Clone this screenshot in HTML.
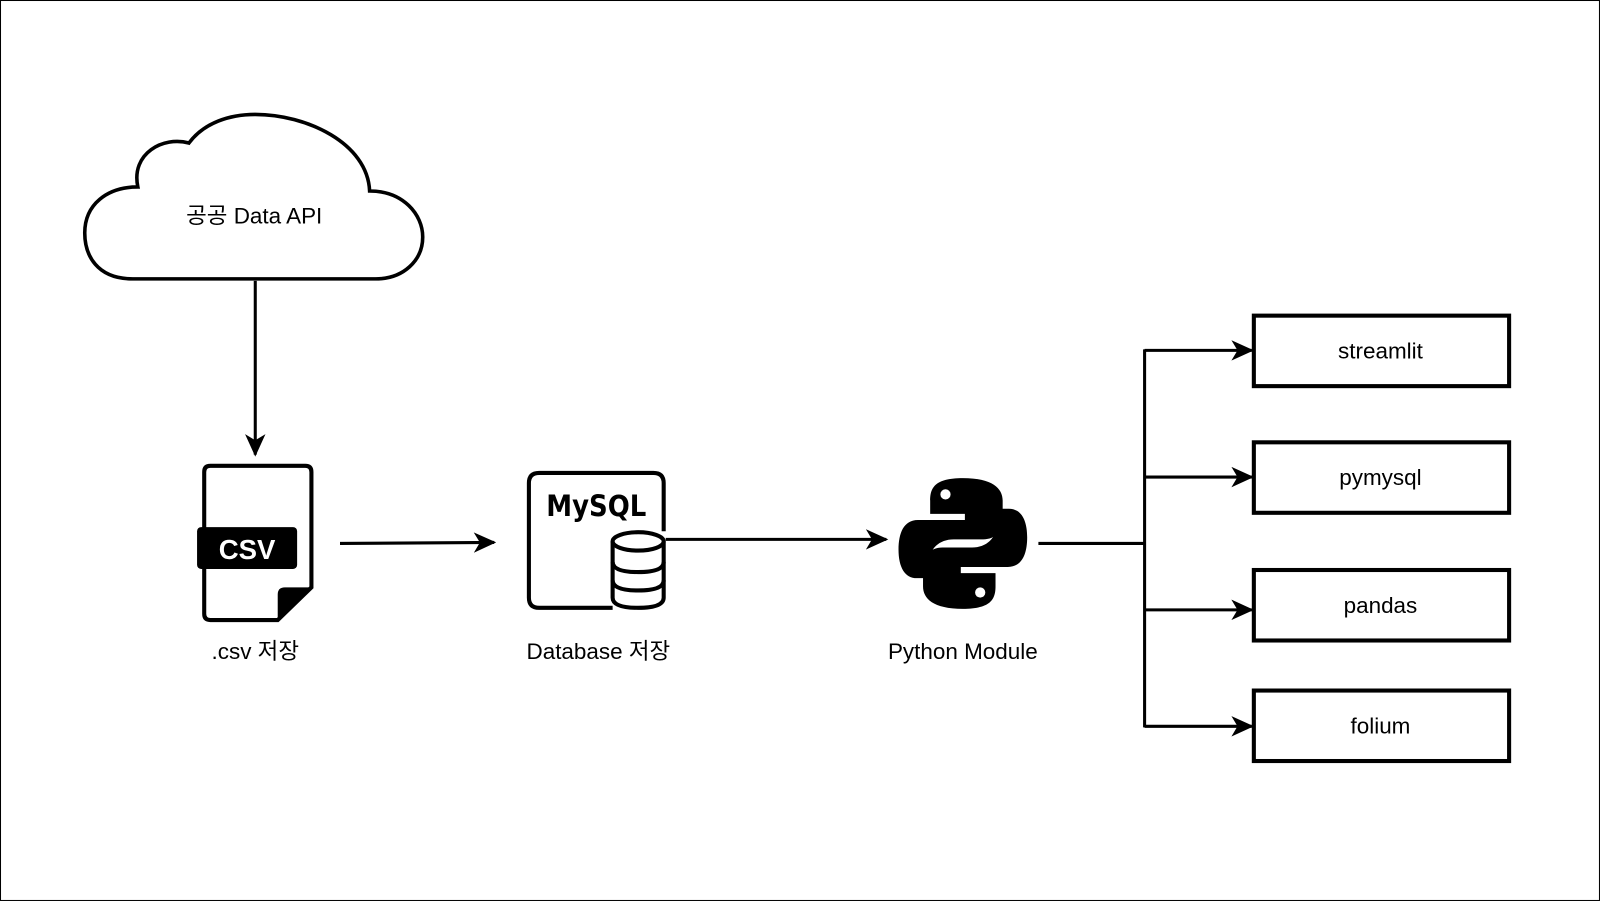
<!DOCTYPE html>
<html><head><meta charset="utf-8"><style>
html,body{margin:0;padding:0;background:#fff}
svg{display:block}
text{font-family:"Liberation Sans","Noto Sans CJK KR",sans-serif;fill:#000}
</style></head><body>
<svg width="1601" height="902" viewBox="0 0 1568 883" preserveAspectRatio="none" xmlns="http://www.w3.org/2000/svg">
<defs>
<marker id="b" markerWidth="22" markerHeight="20" refX="20" refY="10" orient="auto" markerUnits="userSpaceOnUse"><path d="M0,0 L22,10 L0,20 L6,10 z" fill="#000"/></marker></defs>
<rect x="0.5" y="0.5" width="1566" height="881" fill="#fff" stroke="#000" stroke-width="1"/>
<!-- cloud -->
<path d="M130,273 C95,273 83,250 83,228 C83,200 105,183 135,183 C128,150 160,133 185,140 C200,120 225,112 250,112 C300,112 360,140 362,187 C395,187 414,210 414,232 C414,255 395,273 368,273 Z" fill="#fff" stroke="#000" stroke-width="3.5"/>
<text x="249" y="219" font-size="22" text-anchor="middle">공공 Data API</text>
<line x1="250" y1="275" x2="250" y2="445" stroke="#000" stroke-width="3" marker-end="url(#b)"/>
<!-- csv -->
<path d="M206,456 H299 Q305,456 305,462 V575 L272,607 H206 Q200,607 200,601 V462 Q200,456 206,456 Z" fill="#fff" stroke="#000" stroke-width="4"/>
<path d="M305,575 L272,607 V582 Q272,575 279,575 Z" fill="#000"/>
<rect x="193" y="516" width="98" height="41" rx="4" fill="#000"/>
<text x="242" y="547" font-size="27" font-weight="bold" text-anchor="middle" style="fill:#fff">CSV</text>
<text x="250" y="645" font-size="22" text-anchor="middle">.csv 저장</text>
<line x1="333" y1="532" x2="484" y2="531" stroke="#000" stroke-width="3" marker-end="url(#b)"/>
<!-- mysql -->
<path d="M600,595 H528 Q518,595 518,585 V473 Q518,463 528,463 H640 Q650,463 650,473 V520" fill="none" stroke="#000" stroke-width="4"/>
<text x="535" y="505" font-size="29" font-weight="bold" textLength="98" lengthAdjust="spacingAndGlyphs" style="font-family:'DejaVu Sans',sans-serif">MySQL</text>
<g fill="#fff" stroke="#000" stroke-width="4">
<path d="M600,530 V585 Q600,595 625,595 Q650,595 650,585 V530"/>
<ellipse cx="625" cy="530" rx="25" ry="9"/>
<path d="M600,550 Q600,560 625,560 Q650,560 650,550" fill="none"/>
<path d="M600,568 Q600,578 625,578 Q650,578 650,568" fill="none"/>
</g>
<text x="586" y="645" font-size="22" text-anchor="middle">Database 저장</text>
<line x1="652" y1="528" x2="868" y2="528" stroke="#000" stroke-width="3" marker-end="url(#b)"/>
<!-- python -->
<g id="py">
<path d="M943,468 C915,468 911,478 911,490 V503 H945 V509 H899 C885,509 880,522 880,538 C880,555 886,566 898,566 H910 V551 C910,537 920,528 934,528 H963 C975,528 982,520 982,508 V490 C982,478 972,468 943,468 Z" fill="#000"/>
<circle cx="926" cy="484" r="5" fill="#fff"/>
</g>
<use href="#py" transform="rotate(180 943 532)"/>
<text x="943" y="645" font-size="22" text-anchor="middle">Python Module</text>
<!-- branches -->
<g stroke="#000" stroke-width="3" fill="none">
<line x1="1017" y1="532" x2="1121" y2="532"/>
<line x1="1121" y1="342" x2="1121" y2="712"/>
<line x1="1121" y1="343" x2="1226" y2="343" marker-end="url(#b)"/>
<line x1="1121" y1="467" x2="1226" y2="467" marker-end="url(#b)"/>
<line x1="1121" y1="597" x2="1226" y2="597" marker-end="url(#b)"/>
<line x1="1121" y1="711" x2="1226" y2="711" marker-end="url(#b)"/>
</g>
<g fill="#fff" stroke="#000" stroke-width="4">
<rect x="1228" y="309" width="250" height="69"/>
<rect x="1228" y="433" width="250" height="69"/>
<rect x="1228" y="558" width="250" height="69"/>
<rect x="1228" y="676" width="250" height="69"/>
</g>
<g font-size="22" text-anchor="middle">
<text x="1352" y="351">streamlit</text>
<text x="1352" y="475">pymysql</text>
<text x="1352" y="600">pandas</text>
<text x="1352" y="718">folium</text>
</g>
</svg>
</body></html>
